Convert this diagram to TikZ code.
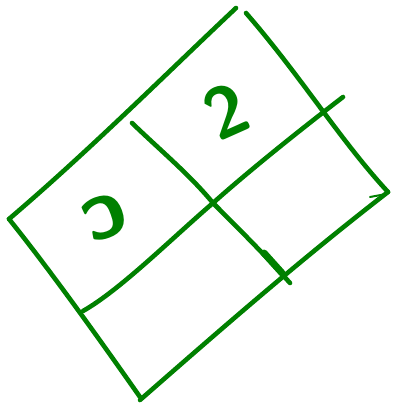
\documentclass[tikz,border=0pt]{standalone}
\usepackage{tikz}
\usetikzlibrary{arrows.meta}
\definecolor{pengreen}{RGB}{0,128,0}
\tikzset{pen/.style={draw=pengreen,line width=4.6pt,line cap=round,line join=round}}
\begin{document}
\begin{tikzpicture}[x=1pt,y=-1pt]
\path[use as bounding box] (0,0) rectangle (396,407);
% outer frame
\draw[pen] (9,219) .. controls (90,150) and (170,70) .. (236,8);
\draw[pen] (246,13) .. controls (300,75) and (340,140) .. (388,192);
\draw[pen] (388,192) .. controls (300,260) and (220,330) .. (140,400);
\draw[pen] (9,219) .. controls (50,270) and (100,340) .. (140,397);
% middle lines
\draw[pen] (132,123) .. controls (160,150) and (190,175) .. (213,203) .. controls (240,230) and (265,255) .. (290,283);
\draw[pen] (343,97) .. controls (300,130) and (250,170) .. (213,203) .. controls (170,240) and (120,290) .. (83,311);
% scribbles
\draw[pen,line width=7pt] (264,253) -- (282,273);
\draw[pen,line width=2pt] (370,197) -- (386,194);
% labels
\node[text=pengreen,font=\fontsize{72}{72}\sffamily\bfseries,rotate=24,inner sep=0pt] (two) at (226,111) {2};
\node[text=pengreen,font=\fontsize{88}{88}\sffamily\bfseries,rotate=200,inner sep=0pt] (hook) at (105,217) {c};
\end{tikzpicture}
\end{document}
